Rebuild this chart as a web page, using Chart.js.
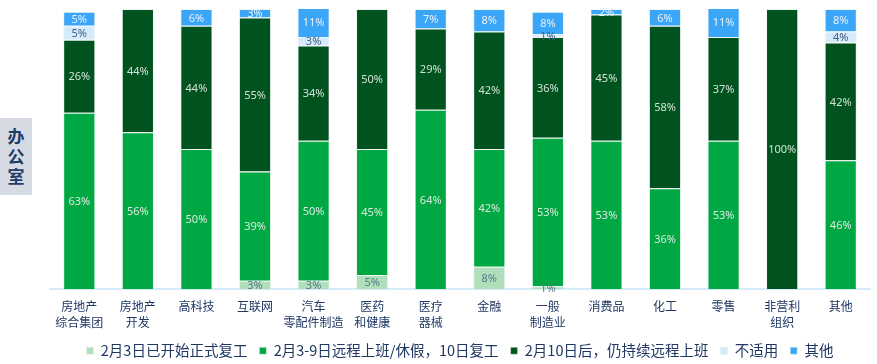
<!DOCTYPE html>
<html>
<head>
<meta charset="utf-8">
<script src="https://cdn.jsdelivr.net/npm/chart.js@4.4.1/dist/chart.umd.min.js"></script>
<style>
  html, body { margin: 0; padding: 0; background: #fff; }
  body { width: 877px; height: 364px; position: relative; overflow: hidden; }
  #side {
    position: absolute; left: 0; top: 118px; width: 32px; height: 77px;
    background: #d6dbe3; color: #1f3d6b;
    font: bold 17px "Noto Sans CJK SC", sans-serif;
    text-align: center; line-height: 20px; padding-top: 8px; box-sizing: border-box;
  }
  #wrap { position: absolute; left: 49px; top: 0; width: 828px; height: 364px; }
</style>
</head>
<body>
<div id="side">办<br>公<br>室</div>
<div id="wrap"><canvas id="officeChart"></canvas></div>
<script>
const categories = [
    ['房地产', '综合集团'], ['房地产', '开发'], '高科技', '互联网', ['汽车', '零配件制造'],
    ['医药', '和健康'], ['医疗', '器械'], '金融', ['一般', '制造业'], '消费品',
    '化工', '零售', ['非营利', '组织'], '其他'
];

const seriesNames = [
    '2月3日已开始正式复工',
    '2月3-9日远程上班/休假，10日复工',
    '2月10日后，仍持续远程上班',
    '不适用',
    '其他'
];

// percent values per category, same order as categories
const startedFeb3   = [0, 0, 0, 3, 3, 5, 0, 8, 1, 0, 0, 0, 0, 0];
const returnFeb10   = [63, 56, 50, 39, 50, 45, 64, 42, 53, 53, 36, 53, 0, 46];
const remoteAfter10 = [26, 44, 44, 55, 34, 50, 29, 42, 36, 45, 58, 37, 100, 42];
const notApplicable = [5, 0, 0, 0, 3, 0, 0, 0, 1, 0, 0, 0, 0, 4];
const otherSeries   = [5, 0, 6, 3, 11, 0, 7, 8, 8, 2, 6, 11, 0, 8];

const fillColors  = ['#b0dfbb', '#00a843', '#00521f', '#d5eafb', '#3ba6f8'];
const labelColors = ['#56798a', '#dbe9de', '#d3e2d6', '#3f5f86', '#e6f1fc'];

const seriesData = [startedFeb3, returnFeb10, remoteAfter10, notApplicable, otherSeries];

const segmentLabels = {
    id: 'segmentLabels',
    afterDatasetsDraw(chart) {
        const ctx = chart.ctx;
        ctx.save();
        ctx.font = '11px "Noto Sans", sans-serif';
        ctx.textAlign = 'center';
        ctx.textBaseline = 'middle';
        chart.data.datasets.forEach((ds, i) => {
            const meta = chart.getDatasetMeta(i);
            meta.data.forEach((bar, j) => {
                const v = ds.data[j];
                if (!v) return;
                ctx.fillStyle = labelColors[i];
                ctx.fillText(v + '%', bar.x, (bar.y + bar.base) / 2 + 1);
            });
        });
        ctx.restore();
    }
};

const ctx = document.getElementById('officeChart').getContext('2d');
new Chart(ctx, {
    type: 'bar',
    data: {
        labels: categories,
        datasets: seriesData.map((d, i) => ({
            label: seriesNames[i],
            data: d,
            backgroundColor: fillColors[i],
            borderColor: 'rgba(225, 240, 230, 0.55)',
            borderWidth: 1,
            barPercentage: 0.55,
            categoryPercentage: 1
        }))
    },
    options: {
        responsive: true,
        maintainAspectRatio: false,
        animation: false,
        layout: { padding: { top: 9, left: 1, right: 7, bottom: -4 } },
        scales: {
            x: {
                stacked: true,
                grid: { display: false },
                border: { color: '#d6ebfa', width: 2 },
                ticks: {
                    color: '#1f3864',
                    font: { family: '"Noto Sans CJK SC", sans-serif', size: 12, lineHeight: 1.35 },
                    maxRotation: 0,
                    autoSkip: false,
                    padding: 1
                }
            },
            y: {
                stacked: true,
                display: false,
                min: 0,
                max: 100
            }
        },
        plugins: {
            legend: {
                position: 'bottom',
                labels: {
                    color: '#1f3864',
                    font: { family: '"Noto Sans CJK SC", sans-serif', size: 14.5 },
                    boxWidth: 7,
                    boxHeight: 7,
                    padding: 12
                }
            },
            tooltip: { enabled: false }
        }
    },
    plugins: [segmentLabels]
});
</script>
</body>
</html>
